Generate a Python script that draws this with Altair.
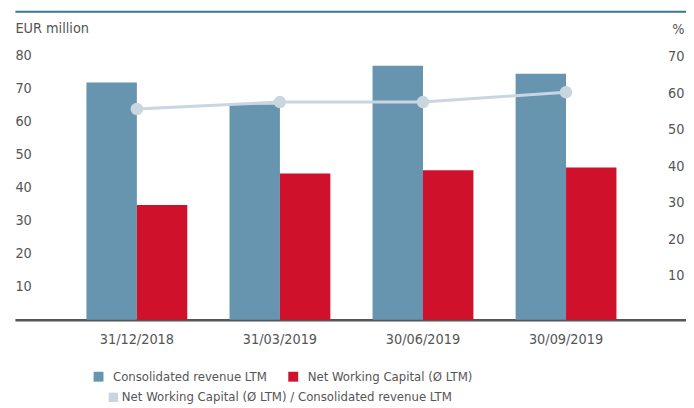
import altair as alt
import pandas as pd

dates = ["31/12/2018", "31/03/2019", "30/06/2019", "30/09/2019"]
revenue = [71.7, 65.1, 76.8, 74.4]
nwc = [34.7, 44.2, 45.2, 46.0]
ratio = [55.7, 57.6, 57.6, 60.3]
series = ["Consolidated revenue LTM", "Net Working Capital (Ø LTM)"]
ratio_name = "Net Working Capital (Ø LTM) / Consolidated revenue LTM"
left_ticks = [10, 20, 30, 40, 50, 60, 70, 80]
right_ticks = [10, 20, 30, 40, 50, 60, 70]

BLUE = "#6795b0"
RED = "#d0112b"
LIGHT = "#c9d6e0"
TOPLINE = "#3d7393"
GREY = "#555555"
FONT = "DejaVu Sans Condensed, sans-serif"
AX_FS = 14.5
LEG_FS = 13.2

bars_df = pd.DataFrame({
    "date": dates * 2,
    "series": [series[0]] * len(dates) + [series[1]] * len(dates),
    "value": revenue + nwc,
})
line_df = pd.DataFrame({"date": dates, "ratio": ratio, "name": [ratio_name] * len(dates)})

W, H = 684, 312

xscale = alt.Scale(domain=dates, range=[5, 686], paddingInner=0.295, paddingOuter=0.5)

bars = alt.Chart(bars_df).mark_bar().encode(
    x=alt.X("date:N", sort=dates, scale=xscale,
            axis=alt.Axis(title=None, labelFontSize=AX_FS, labelColor=GREY, labelPadding=13,
                          ticks=False, domainColor=GREY, domainWidth=2.5, labelAngle=0,
                          orient="bottom")),
    xOffset=alt.XOffset("series:N", sort=series, scale=alt.Scale(paddingInner=0, paddingOuter=0)),
    y=alt.Y("value:Q", scale=alt.Scale(domain=[0, 93.24], nice=False, zero=False),
            axis=alt.Axis(values=left_ticks, orient="left", title="EUR million", titleAngle=0,
                          titleAlign="left", titleBaseline="middle", titleX=0, titleY=17,
                          titleFontSize=AX_FS, titleFontWeight="normal", titleColor=GREY,
                          offset=-5, labelAlign="left", labelPadding=0, ticks=False,
                          domain=False, grid=False, labelFontSize=AX_FS, labelColor=GREY)),
    color=alt.Color("series:N", sort=series, scale=alt.Scale(domain=series, range=[BLUE, RED]),
                    legend=alt.Legend(orient="none", legendX=83, legendY=363, direction="horizontal",
                                      title=None, symbolType="square", symbolSize=100,
                                      labelFontSize=LEG_FS, labelColor=GREY, columnPadding=20,
                                      labelOffset=8, padding=0, labelLimit=0)),
)

top_axis = alt.Axis(orient="top", labels=False, ticks=False, domainColor=TOPLINE,
                    domainWidth=2, title=None, grid=False)
right_axis = alt.Axis(values=right_ticks, orient="right", title="%", titleAngle=0,
                      titleAlign="right", titleBaseline="middle", titleX=0, titleY=18,
                      titleFontSize=AX_FS, titleFontWeight="normal", titleColor=GREY,
                      offset=-2, labelAlign="right", labelPadding=0, ticks=False,
                      domain=False, grid=False, labelFontSize=AX_FS, labelColor=GREY)
yscale_r = alt.Scale(domain=[-1.99, 82.45], nice=False, zero=False)

line = alt.Chart(line_df).mark_line(color=LIGHT, strokeWidth=3).encode(
    x=alt.X("date:N", sort=dates, scale=xscale, axis=top_axis),
    y=alt.Y("ratio:Q", scale=yscale_r, axis=right_axis),
)
points = alt.Chart(line_df).mark_circle(size=160, opacity=1).encode(
    x=alt.X("date:N", sort=dates, scale=xscale, axis=top_axis),
    y=alt.Y("ratio:Q", scale=yscale_r, axis=right_axis),
    color=alt.Color("name:N", scale=alt.Scale(domain=[ratio_name], range=[LIGHT]),
                    legend=alt.Legend(orient="none", legendX=98, legendY=384, title=None,
                                      symbolType="square", symbolSize=90, labelFontSize=LEG_FS,
                                      labelColor=GREY, labelOffset=2, padding=0, labelLimit=0)),
)

chart = alt.layer(bars, alt.layer(line, points)).resolve_scale(
    y="independent", color="independent"
).resolve_axis(x="independent", y="independent").properties(
    width=W, height=H,
    padding={"left": 2, "top": 1, "right": 0, "bottom": 87},
    autosize=alt.AutoSizeParams(type="none"),
).configure(font=FONT).configure_view(stroke=None)

chart.save("out.html", embed_options={"renderer": "svg", "actions": False})
